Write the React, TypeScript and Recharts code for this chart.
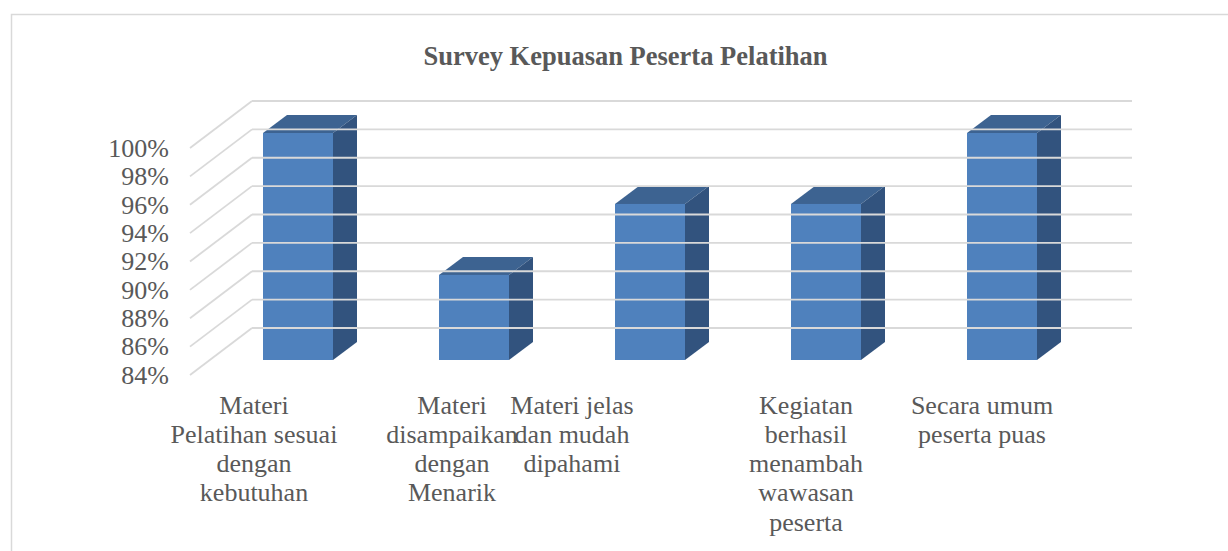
import React from 'react';
import { BarChart, Bar, XAxis, YAxis } from 'recharts';

const title = 'Survey Kepuasan Peserta Pelatihan';
const categories = [
  'Materi Pelatihan sesuai dengan kebutuhan',
  'Materi disampaikan dengan Menarik',
  'Materi jelas dan mudah dipahami',
  'Kegiatan berhasil menambah wawasan peserta',
  'Secara umum peserta puas',
];
const values = [100, 90, 95, 95, 100];
const labelLines = [
  ['Materi', 'Pelatihan sesuai', 'dengan', 'kebutuhan'],
  ['Materi', 'disampaikan', 'dengan', 'Menarik'],
  ['Materi jelas', 'dan mudah', 'dipahami'],
  ['Kegiatan', 'berhasil', 'menambah', 'wawasan', 'peserta'],
  ['Secara umum', 'peserta puas'],
];
const yTicks = [84, 86, 88, 90, 92, 94, 96, 98, 100];

const data = categories.map((name, i) => ({ name, value: values[i] }));

// layout
const W = 1228;
const H = 551;
const PLOT_LEFT = 210;
const PLOT_RIGHT = 1090;
const PLOT_TOP = 133;
const PLOT_BOTTOM = 360;
const FRONT = { dx: -20, dy: 15 };
const BACK = { dx: 42, dy: -32 };
const DEPTH = { dx: 24, dy: -18 };
const LABEL_RIGHT = 169;
const LABEL_NUDGE = [-24, -2, -58, 0, 0];
const FONT = '"Liberation Serif", "Times New Roman", serif';
const TEXT = '#595959';
const GRID = '#D9D9D9';

const YTick = (props: any) => {
  const { y, payload } = props;
  return (
    <g>
      <line x1={PLOT_LEFT + FRONT.dx} y1={y + FRONT.dy} x2={PLOT_LEFT + BACK.dx} y2={y + BACK.dy} stroke={GRID} strokeWidth={1.8} />
      <line x1={PLOT_LEFT + BACK.dx} y1={y + BACK.dy} x2={PLOT_RIGHT + BACK.dx} y2={y + BACK.dy} stroke={GRID} strokeWidth={1.8} />
      <text x={LABEL_RIGHT} y={y + FRONT.dy + 8.8} textAnchor="end" fontFamily={FONT} fontSize={26} fill={TEXT}>
        {payload.value}%
      </text>
    </g>
  );
};

const XTick = (props: any) => {
  const { x, y, index } = props;
  const lines = labelLines[index] || [];
  const cx = x + FRONT.dx + (LABEL_NUDGE[index] || 0);
  return (
    <text x={cx} y={y + 53.5} textAnchor="middle" fontFamily={FONT} fontSize={26} fill={TEXT}>
      {lines.map((l, i) => (
        <tspan key={i} x={cx} dy={i === 0 ? 0 : 29.3}>{l}</tspan>
      ))}
    </text>
  );
};

const Bar3D = (props: any) => {
  const { x, y, width, height } = props;
  if (width == null || height == null) return null;
  const dx = DEPTH.dx;
  const dy = DEPTH.dy;
  return (
    <g>
      <polygon
        points={`${x},${y} ${x + dx},${y + dy} ${x + width + dx},${y + dy} ${x + width},${y}`}
        fill="#3D6391"
      />
      <polygon
        points={`${x + width},${y} ${x + width + dx},${y + dy} ${x + width + dx},${y + height + dy} ${x + width},${y + height}`}
        fill="#32537E"
      />
      <rect x={x} y={y} width={width} height={height} fill="#4F81BD" />
    </g>
  );
};

export default function App() {
  return (
    <div style={{ position: 'absolute', left: 0, top: 0, width: W, height: H, background: '#fff' }}>
      <svg width={W} height={H} style={{ position: 'absolute', left: 0, top: 0 }}>
        <rect x={11.5} y={14.5} width={1400} height={800} fill="none" stroke={GRID} strokeWidth={1.5} />
        <text x={625.5} y={65} textAnchor="middle" fontFamily={FONT} fontSize={26.5} fontWeight="bold" fill={TEXT}>
          {title}
        </text>
      </svg>
      <div style={{ position: 'absolute', left: 0, top: 0 }}>
        <BarChart
          width={W}
          height={H}
          data={data}
          margin={{ top: PLOT_TOP, right: W - PLOT_RIGHT, bottom: 0, left: 0 }}
        >
          <YAxis
            width={PLOT_LEFT}
            domain={[84, 100]}
            ticks={yTicks}
            interval={0}
            axisLine={false}
            tickLine={false}
            tick={<YTick />}
          />
          <XAxis
            dataKey="name"
            height={H - PLOT_BOTTOM}
            interval={0}
            axisLine={false}
            tickLine={false}
            tickSize={0}
            tickMargin={0}
            tick={<XTick />}
          />
          <Bar dataKey="value" barSize={70} shape={<Bar3D />} isAnimationActive={false} />
        </BarChart>
      </div>
    </div>
  );
}
